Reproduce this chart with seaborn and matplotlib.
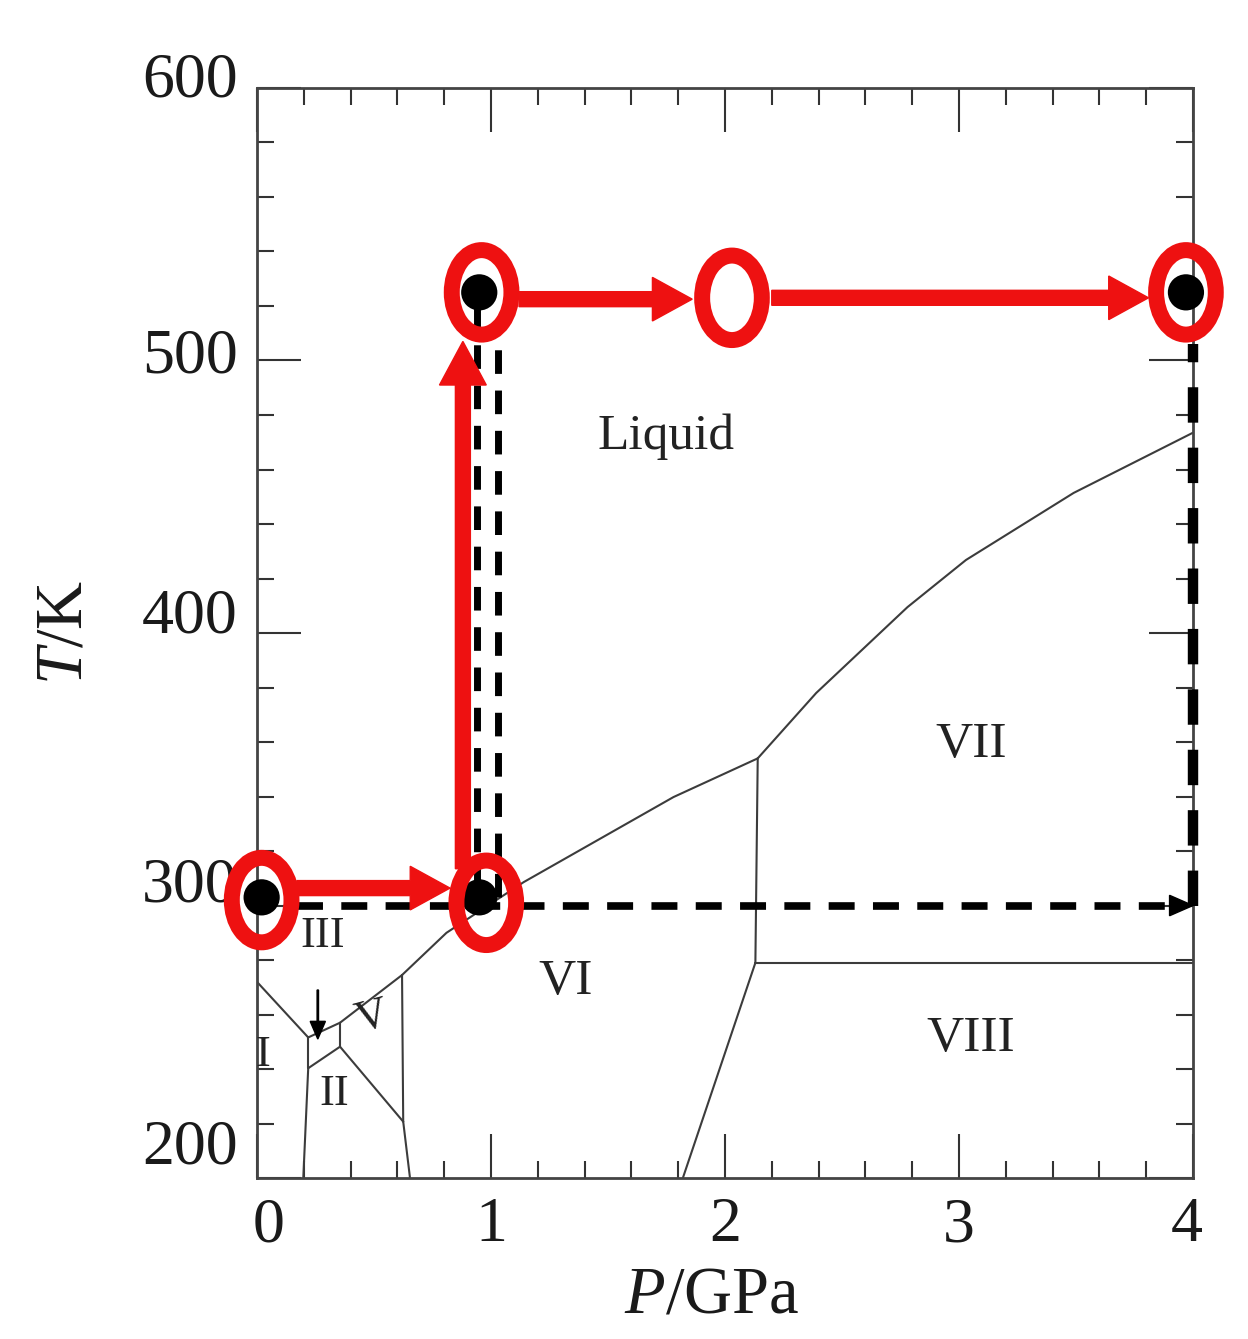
import matplotlib
matplotlib.use("Agg")
import matplotlib.pyplot as plt
import matplotlib.transforms as mtransforms
from matplotlib.patches import Ellipse, FancyArrow
from matplotlib.ticker import MultipleLocator
import pandas as pd
import seaborn as sns

# phase boundaries of water, (P / GPa, T / K)
ice1_liquid = [(0.0, 272.0), (0.219, 251.6)]
ice3_liquid = [(0.219, 251.6), (0.355, 257.0)]
ice5_liquid = [(0.355, 257.0), (0.62, 274.5)]
ice6_liquid = [(0.62, 274.5), (0.81, 290.0), (1.14, 308.6), (1.78, 339.8), (2.14, 354.0)]
ice7_liquid = [(2.14, 354.0), (2.39, 378.0), (2.78, 409.5), (3.03, 426.8), (3.49, 451.4), (4.0, 473.5)]
ice1_ice3 = [(0.219, 251.6), (0.219, 240.3)]
ice1_ice2 = [(0.219, 240.3), (0.198, 200.0)]
ice2_ice3 = [(0.219, 240.3), (0.355, 248.2)]
ice3_ice5 = [(0.355, 248.2), (0.355, 257.0)]
ice2_ice5 = [(0.355, 248.2), (0.625, 220.7)]
ice5_ice6 = [(0.62, 274.5), (0.625, 220.7)]
ice2_ice6 = [(0.625, 220.7), (0.654, 200.0)]
ice6_ice7 = [(2.14, 354.0), (2.13, 279.0)]
ice7_ice8 = [(2.13, 279.0), (4.0, 279.0)]
ice6_ice8 = [(2.13, 279.0), (1.82, 200.0)]

boundaries = [ice1_liquid, ice3_liquid, ice5_liquid, ice6_liquid, ice7_liquid,
              ice1_ice3, ice1_ice2, ice2_ice3, ice3_ice5, ice2_ice5,
              ice5_ice6, ice2_ice6, ice6_ice7, ice7_ice8, ice6_ice8]

phase_names = ["Liquid", "III", "V", "I", "II", "VI", "VII", "VIII"]
phase_p = [1.75, 0.28, 0.49, 0.025, 0.33, 1.32, 3.05, 3.05]
phase_t = [472, 289, 259, 245, 231, 272, 359, 251]

# measured states (black dots) and red rings around them
dot_p = [0.02, 0.95, 0.95, 3.97]
dot_t = [303, 303, 525, 525]
ring_p = [0.02, 0.98, 0.96, 2.03, 3.97]
ring_t = [302, 301, 525, 523, 525]

# red path: start -> end
red_paths = [((0.17, 306.4), (0.825, 306.4)),
             ((0.88, 313.5), (0.88, 507.0)),
             ((1.12, 522.5), (1.86, 522.5)),
             ((2.20, 523.0), (3.81, 523.0))]

# black dashed path
dash_h = [(0.17, 300.0), (3.92, 300.0)]
dash_v1 = [(0.94, 305.0), (0.94, 520.0)]
dash_v2 = [(1.03, 303.0), (1.03, 514.0)]
dash_edge = [(4.0, 300.0), (4.0, 506.0)]

x_ticks = [0, 1, 2, 3, 4]
y_ticks = [200, 300, 400, 500, 600]

sns.set_theme(style="ticks")
plt.rcParams["font.family"] = ["Liberation Serif", "DejaVu Serif"]
plt.rcParams["mathtext.fontset"] = "custom"
plt.rcParams["mathtext.it"] = "Liberation Serif:italic"
plt.rcParams["mathtext.rm"] = "Liberation Serif"

fig = plt.figure(figsize=(12.48, 13.39), dpi=100)
ax = fig.add_axes([0.2059, 0.1202, 0.75, 0.8141])

line_col = "#3c3c3c"
for seg in boundaries:
    df = pd.DataFrame(seg, columns=["P", "T"])
    sns.lineplot(data=df, x="P", y="T", sort=False, estimator=None,
                 color=line_col, lw=1.5, ax=ax)

# small arrow pointing to ice III
ax.add_patch(FancyArrow(0.26, 269, 0, -18, width=0.006, head_width=0.065,
                        head_length=6.5, length_includes_head=True,
                        color="black", zorder=3))

for name, p, t in zip(phase_names, phase_p, phase_t):
    size = 37 if name in ("Liquid", "VI", "VII", "VIII") else 32
    rot = 15 if name == "V" else 0
    ax.text(p, t, name, fontsize=size, ha="center", va="center",
            rotation=rot, color="#222222", zorder=3)

# black dashed lines
dash_style = (0, (3.4, 2.4))
for seg, lw in [(dash_h, 5.5), (dash_v1, 5.0), (dash_v2, 5.0), (dash_edge, 7.5)]:
    df = pd.DataFrame(seg, columns=["P", "T"])
    sns.lineplot(data=df, x="P", y="T", sort=False, estimator=None,
                 color="black", lw=lw, linestyle=dash_style, ax=ax,
                 clip_on=False, zorder=4)
ax.add_patch(FancyArrow(3.9, 300, 0.1, 0, width=2.5, head_width=7.5,
                        head_length=0.1, length_includes_head=True,
                        color="black", clip_on=False, zorder=4))

# red arrows
for (x0, y0), (x1, y1) in red_paths:
    if y0 == y1:
        arr = FancyArrow(x0, y0, x1 - x0, 0, width=5.5, head_width=16,
                         head_length=0.17, length_includes_head=True,
                         color="#ee1111", zorder=5)
    else:
        arr = FancyArrow(x0, y0, 0, y1 - y0, width=0.064, head_width=0.2,
                         head_length=16, length_includes_head=True,
                         color="#ee1111", zorder=5)
    ax.add_patch(arr)

sns.scatterplot(x=dot_p, y=dot_t, s=680, color="black", edgecolor="none",
                ax=ax, zorder=6, clip_on=False)

for p, t in zip(ring_p, ring_t):
    ax.add_patch(Ellipse((p, t), 0.255, 31, fill=False, edgecolor="#ee1111",
                         lw=11.5, clip_on=False, zorder=7))

ax.set_xlim(0, 4)
ax.set_ylim(200, 600)
ax.set_xticks(x_ticks)
ax.set_yticks(y_ticks)
ax.xaxis.set_minor_locator(MultipleLocator(0.2))
ax.yaxis.set_minor_locator(MultipleLocator(20))
ax.tick_params(which="both", direction="in", top=True, right=True,
               color="#333333", width=1.5, labelsize=46, labelcolor="#1a1a1a")
ax.tick_params(which="major", length=32)
ax.tick_params(which="minor", length=12)
ax.tick_params(axis="x", pad=14)
ax.tick_params(axis="y", pad=14)
for spine in ax.spines.values():
    spine.set_linewidth(2.0)
    spine.set_color("#444444")

# tick labels of the original sit a little above their ticks (scan skew)
label_lift_px = [37, 26, 23, 10, 13]
for lab, lift in zip(ax.get_yticklabels(), label_lift_px):
    shift = mtransforms.ScaledTranslation(0, lift / 100, fig.dpi_scale_trans)
    lab.set_transform(lab.get_transform() + shift)
xlab_shift = [12, 0, 0, 0, -6]
for lab, dx in zip(ax.get_xticklabels(), xlab_shift):
    shift = mtransforms.ScaledTranslation(dx / 100, 0, fig.dpi_scale_trans)
    lab.set_transform(lab.get_transform() + shift)

ax.set_xlabel("$P$/GPa", fontsize=48, color="#1a1a1a")
ax.set_ylabel("$T$/K", fontsize=48, color="#1a1a1a")
ax.xaxis.set_label_coords(0.486, -0.08)
ax.yaxis.set_label_coords(-0.172, 0.5)

fig.savefig("out.png", dpi=100)
